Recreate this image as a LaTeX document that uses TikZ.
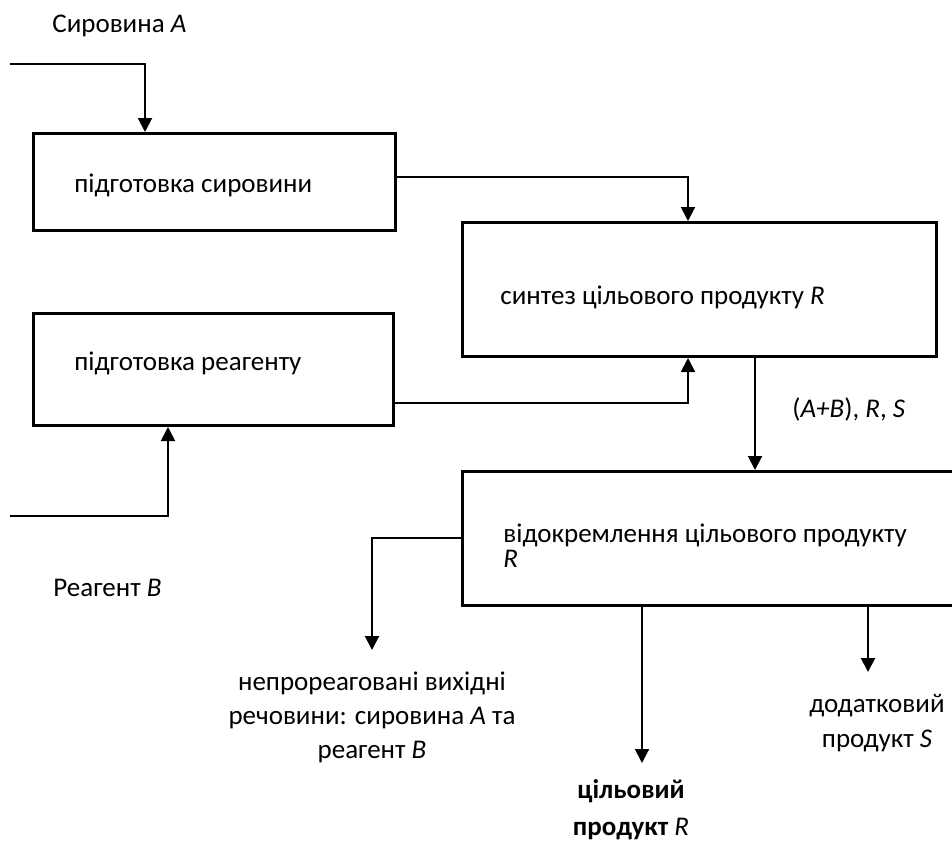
\documentclass[tikz,border=0pt]{standalone}
\usepackage{fontspec}
\setmainfont{Carlito}
\usetikzlibrary{arrows.meta}
\begin{document}
\begin{tikzpicture}[x=0.5pt,y=-0.5pt,
  box/.style={draw,line width=1.5pt,inner sep=0pt,anchor=north west},
  conn/.style={line width=1pt},
  arr/.style={conn,-{Triangle[width=7pt,length=7pt]}},
  txt/.style={inner sep=0pt,font=\fontsize{13.5}{16}\selectfont},
]
\useasboundingbox (0,0) rectangle (952,841);
% boxes
\node[box,minimum width=181pt,minimum height=48.5pt] (b1) at (32,132) {};
\node[box,minimum width=180pt,minimum height=56pt] (b3) at (32,312) {};
\node[box,minimum width=237pt,minimum height=67pt] (b2) at (461,221) {};
\node[box,minimum width=252pt,minimum height=67pt] (b4) at (461,470) {};
% free ends
\coordinate (inA) at (10,64);
\coordinate (inB) at (10,516);
\coordinate (outU) at (372,650);
\coordinate (outR) at (642,763);
\coordinate (outS) at (868,672);
% connectors
\draw[arr] (inA) -| ([xshift=56.5pt]b1.north west);
\draw[arr] ([yshift=-22.5pt]b1.north east) -| ([xshift=113.5pt]b2.north west);
\draw[arr] ([yshift=-45.5pt]b3.north east) -| ([xshift=113.5pt]b2.south west);
\draw[arr] (inB) -| ([xshift=68pt]b3.south west);
\draw[arr] ([xshift=147pt]b2.south west) -- ([xshift=147pt]b4.north west);
\draw[arr] ([yshift=-34pt]b4.north west) -| (outU);
\draw[arr] ([xshift=90.5pt]b4.south west) -- (outR);
\draw[arr] ([xshift=203.5pt]b4.south west) -- (outS);
% texts
\node[txt,anchor=base west] (tA) at (52,32) {Сировина \textit{A}};
\node[txt,anchor=base west] (t1) at (74,192) {підготовка сировини};
\node[txt,anchor=base west] (t3) at (74,370) {підготовка реагенту};
\node[txt,anchor=base west] (tB) at (53,596) {Реагент \textit{B}};
\node[txt,anchor=base west] (t2) at (500,304) {синтез цільового продукту \textit{R}};
\node[txt,anchor=base west] (tm) at (792,417) {(\textit{A+B}), \textit{R}, \textit{S}};
\node[txt,anchor=north west,align=left,font=\fontsize{13.5}{12.5}\selectfont] (t4) at (503,524) {відокремлення цільового продукту\\\textit{R}};
\node[txt,anchor=north,align=center,font=\fontsize{13.5}{17}\selectfont] (tU) at (372,672) {непрореаговані вихідні\\речовини: сировина \textit{A} та\\реагент \textit{B}};
\node[txt,anchor=north,align=center,font=\fontsize{13.5}{18.5}\selectfont\bfseries] (tR) at (631,779) {цільовий\\продукт \textit{\mdseries R}};
\node[txt,anchor=north,align=center,font=\fontsize{13.5}{17.5}\selectfont] (tS) at (877,694) {додатковий\\продукт \textit{S}};
\end{tikzpicture}
\end{document}
